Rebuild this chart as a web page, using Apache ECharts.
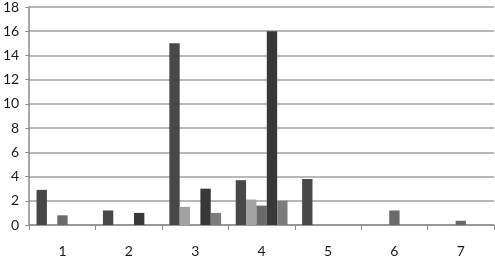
<!DOCTYPE html>
<html>
<head>
<meta charset="utf-8">
<script src="https://cdn.jsdelivr.net/npm/echarts@6/dist/echarts.min.js"></script>
<style>html,body{margin:0;padding:0;background:#fff}#c{width:495px;height:258px}</style>
</head>
<body>
<div id="c"></div>
<script>
const categories = ['1','2','3','4','5','6','7'];
const series1 = [2.9, 1.2, 15, 3.7, 3.8, null, null];
const series2 = [null, null, 1.5, 2.1, null, null, null];
const series3 = [0.8, null, null, 1.6, null, 1.2, 0.35];
const series4 = [null, 1.0, 3, 16, null, null, null];
const series5 = [null, null, 1.0, 2.0, null, null, null];
const colors = ['#484848', '#a3a3a3', '#6a6a6a', '#383838', '#7c7c7c'];
const allSeries = [series1, series2, series3, series4, series5];

const chart = echarts.init(document.getElementById('c'));
chart.setOption({
  animation: false,
  textStyle: { fontFamily: 'Lato' },
  grid: { left: 25, right: 1, top: 5, bottom: 31, containLabel: false },
  xAxis: {
    type: 'category',
    data: categories,
    boundaryGap: true,
    axisLine: { show: true, lineStyle: { color: '#8c8c8c', width: 1.5 } },
    axisTick: { show: true, length: 5, lineStyle: { color: '#8c8c8c' } },
    axisLabel: { fontSize: 14, color: '#1a1a1a', margin: 19, fontFamily: 'Lato' },
    splitLine: { show: false }
  },
  yAxis: {
    type: 'value',
    min: 0, max: 18, interval: 2,
    axisLine: { show: true, lineStyle: { color: '#8c8c8c', width: 1.5 } },
    axisTick: { show: true, length: 4, lineStyle: { color: '#8c8c8c' } },
    axisLabel: { fontSize: 14, color: '#1a1a1a', margin: 10, fontFamily: 'Lato' },
    splitLine: { show: true, lineStyle: { color: '#a0a0a0', width: 1.5 } }
  },
  series: allSeries.map((d, i) => ({
    type: 'bar',
    data: d,
    barGap: 0,
    barCategoryGap: '22%',
    itemStyle: { color: colors[i] }
  }))
});
</script>
</body>
</html>
